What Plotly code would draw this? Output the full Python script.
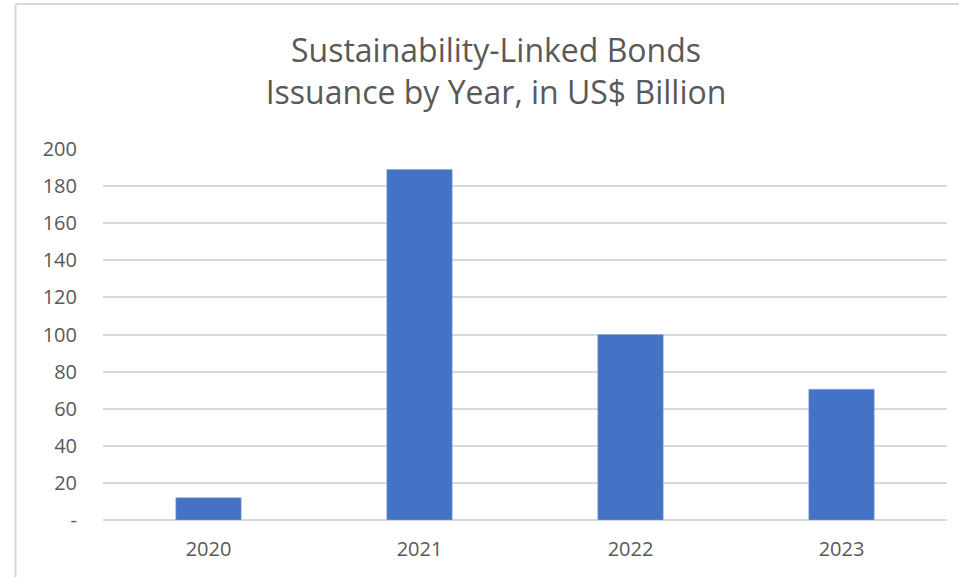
import plotly.graph_objects as go

# Sustainability-linked bond issuance, US$ billion
years = ["2020", "2021", "2022", "2023"]
issuance = [12, 189, 100, 70.5]

y_tick_vals = [0, 20, 40, 60, 80, 100, 120, 140, 160, 180, 200]
y_tick_text = ["-", "20", "40", "60", "80", "100", "120", "140", "160", "180", "200"]

W, H = 959, 577
L, R, T, B = 103, 12, 149, 57
pw, ph = W - L - R, H - T - B

def px_x(x):
    return (x - L) / pw

def px_y(y):
    return (H - B - y) / ph

text_col = "#595959"
grid_col = "#d9d9d9"
font_fam = "Open Sans, Noto Sans, sans-serif"

fig = go.Figure(
    go.Bar(
        x=years,
        y=issuance,
        marker=dict(color="#4472c4", line=dict(color="#8faadc", width=0.6)),
        width=0.31,
    )
)

fig.update_layout(
    width=W,
    height=H,
    margin=dict(l=L, r=R, t=T, b=B, pad=0),
    paper_bgcolor="white",
    plot_bgcolor="white",
    showlegend=False,
    title=dict(
        text="Sustainability-Linked Bonds<br>Issuance by Year, in US$ Billion",
        x=496 / W,
        xanchor="center",
        y=1 - 62 / H,
        yanchor="middle",
        font=dict(family=font_fam, size=32, color=text_col),
    ),
    font=dict(family=font_fam, size=20, color=text_col),
)

fig.update_xaxes(
    showgrid=False,
    showline=False,
    ticks="",
    tickfont=dict(size=20, color=text_col),
    ticklabelstandoff=15,
)
fig.update_yaxes(
    range=[0, 200],
    tickvals=y_tick_vals,
    ticktext=y_tick_text,
    showgrid=True,
    gridcolor=grid_col,
    gridwidth=1.5,
    zeroline=True,
    zerolinecolor=grid_col,
    zerolinewidth=1.5,
    showline=False,
    ticks="",
    tickfont=dict(size=20, color=text_col),
    ticklabelstandoff=25,
)

# chart-area frame: top and left edges
fig.add_shape(
    type="line", xref="paper", yref="paper",
    x0=px_x(15.5), x1=px_x(W + 5), y0=px_y(4), y1=px_y(4),
    line=dict(color=grid_col, width=2), layer="below",
)
fig.add_shape(
    type="line", xref="paper", yref="paper",
    x0=px_x(15.5), x1=px_x(15.5), y0=px_y(4), y1=px_y(H + 5),
    line=dict(color=grid_col, width=2), layer="below",
)

fig.write_html("out.html")
